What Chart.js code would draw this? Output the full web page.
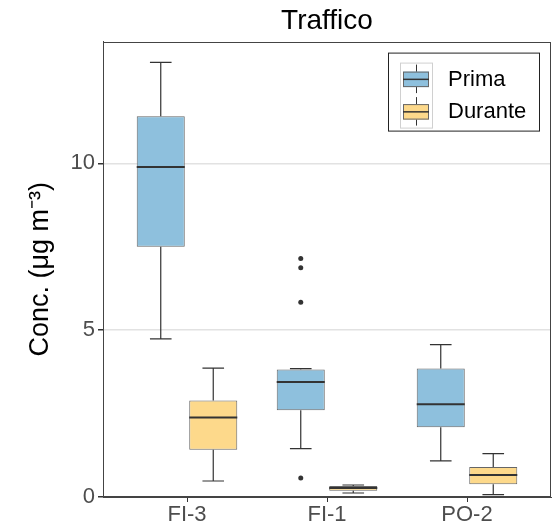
<!DOCTYPE html>
<html>
<head>
<meta charset="utf-8">
<script src="https://cdn.jsdelivr.net/npm/chart.js@4/dist/chart.umd.min.js"></script>
<style>
  html, body { margin: 0; padding: 0; background: #fff; }
  #chart { display: block; }
</style>
</head>
<body>
<canvas id="chart" width="553" height="530"></canvas>
<script>
// categories and tick labels
const categories = ['FI-3', 'FI-1', 'PO-2'];
const yTicks = [0, 5, 10];

// "Prima" box stats
const primaMin    = [4.74, 1.45, 1.08];
const primaQ1     = [7.50, 2.60, 2.09];
const primaMedian = [9.89, 3.45, 2.78];
const primaQ3     = [11.41, 3.82, 3.85];
const primaMax    = [13.03, 3.85, 4.57];
const primaOutliers = [[], [7.15, 6.87, 5.84, 0.57], []];

// "Durante" box stats
const duranteMin    = [0.48, 0.12, 0.07];
const duranteQ1     = [1.42, 0.19, 0.38];
const duranteMedian = [2.38, 0.27, 0.66];
const duranteQ3     = [2.89, 0.33, 0.90];
const duranteMax    = [3.86, 0.36, 1.30];
const duranteOutliers = [[], [], []];

const FONT = "'Liberation Sans', Arial, sans-serif";
const BLUE = '#8ec0dd';
const YELLOW = '#fdd98b';
const DARK = '#333333';

const seriesStats = [
  { label: 'Prima', color: BLUE, min: primaMin, q1: primaQ1, med: primaMedian, q3: primaQ3, max: primaMax, out: primaOutliers },
  { label: 'Durante', color: YELLOW, min: duranteMin, q1: duranteQ1, med: duranteMedian, q3: duranteQ3, max: duranteMax, out: duranteOutliers }
];

// whiskers, medians, outliers, panel frame and legend
const boxplotExtras = {
  id: 'boxplotExtras',
  afterDatasetsDraw(chart) {
    const ctx = chart.ctx;
    const y = chart.scales.y;
    ctx.save();
    seriesStats.forEach((s, di) => {
      const meta = chart.getDatasetMeta(di);
      meta.data.forEach((bar, i) => {
        const x = bar.x, w = bar.width;
        const capW = w * 0.45;
        const yMin = y.getPixelForValue(s.min[i]);
        const yMax = y.getPixelForValue(s.max[i]);
        const yQ1 = y.getPixelForValue(s.q1[i]);
        const yQ3 = y.getPixelForValue(s.q3[i]);
        const yMed = y.getPixelForValue(s.med[i]);
        ctx.strokeStyle = DARK;
        ctx.lineWidth = 1.2;
        ctx.beginPath();
        ctx.moveTo(x, yQ3); ctx.lineTo(x, yMax);
        ctx.moveTo(x, yQ1); ctx.lineTo(x, yMin);
        ctx.moveTo(x - capW / 2, yMax); ctx.lineTo(x + capW / 2, yMax);
        ctx.moveTo(x - capW / 2, yMin); ctx.lineTo(x + capW / 2, yMin);
        ctx.stroke();
        ctx.lineWidth = 2;
        ctx.beginPath();
        ctx.moveTo(x - w / 2, yMed); ctx.lineTo(x + w / 2, yMed);
        ctx.stroke();
        ctx.fillStyle = DARK;
        s.out[i].forEach(v => {
          ctx.beginPath();
          ctx.arc(x, y.getPixelForValue(v), 2.5, 0, Math.PI * 2);
          ctx.fill();
        });
      });
    });
    ctx.restore();
  },
  afterDraw(chart) {
    const ctx = chart.ctx;
    const a = chart.chartArea;
    ctx.save();
    // panel border
    ctx.strokeStyle = '#444';
    ctx.lineWidth = 1;
    ctx.strokeRect(Math.round(a.left) + 0.5, Math.round(a.top) + 0.5,
      Math.round(a.right - a.left) - 1, Math.round(a.bottom - a.top) - 1);

    // legend
    const lx = a.right - 163, ly = a.top + 11, lw = 151, lh = 78;
    ctx.fillStyle = '#fff';
    ctx.fillRect(lx, ly, lw, lh);
    ctx.strokeStyle = '#222';
    ctx.strokeRect(lx + 0.5, ly + 0.5, lw, lh);
    const kx = lx + 12, ky = ly + 10, kw = 32, kh = 32.5;
    ctx.strokeStyle = '#d0d0d0';
    ctx.strokeRect(kx + 0.5, ky + 0.5, kw, kh * 2);
    seriesStats.forEach((s, i) => {
      const top = ky + i * kh;
      const cx = kx + kw / 2 + 0.5;
      ctx.strokeStyle = DARK;
      ctx.lineWidth = 1;
      ctx.beginPath();
      ctx.moveTo(cx, top + 2); ctx.lineTo(cx, top + kh - 2);
      ctx.stroke();
      ctx.fillStyle = s.color;
      ctx.fillRect(kx + 3, top + 9, kw - 6, kh - 17);
      ctx.strokeStyle = '#666';
      ctx.strokeRect(kx + 3.5, top + 9.5, kw - 7, kh - 18);
      ctx.strokeStyle = DARK;
      ctx.lineWidth = 1.5;
      ctx.beginPath();
      ctx.moveTo(kx + 3, top + kh / 2 + 0.5); ctx.lineTo(kx + kw - 3, top + kh / 2 + 0.5);
      ctx.stroke();
      ctx.fillStyle = '#000';
      ctx.font = '22px ' + FONT;
      ctx.textBaseline = 'middle';
      ctx.fillText(s.label, kx + 48, top + kh / 2 + 1);
    });
    ctx.restore();
  }
};

new Chart(document.getElementById('chart'), {
  type: 'bar',
  data: {
    datasets: seriesStats.map(s => ({
      label: s.label,
      data: categories.map((c, i) => ({ x: i + 1, y: [s.q1[i], s.q3[i]] })),
      backgroundColor: s.color,
      borderColor: '#666',
      borderWidth: 1,
      borderSkipped: false,
      categoryPercentage: 0.75,
      barPercentage: 0.915
    }))
  },
  options: {
    responsive: false,
    animation: false,
    devicePixelRatio: 1,
    events: [],
    layout: { padding: { top: 0, right: 2, bottom: 0, left: 0 } },
    plugins: {
      legend: { display: false },
      tooltip: { enabled: false },
      title: {
        display: true,
        text: 'Traffico',
        fullSize: false,
        color: '#000',
        font: { family: FONT, size: 28, weight: 'normal' },
        padding: { top: 4, bottom: 4 }
      }
    },
    scales: {
      x: {
        type: 'linear',
        min: 0.4,
        max: 3.6,
        offset: false,
        afterBuildTicks: (scale) => { scale.ticks = categories.map((c, i) => ({ value: i + 1 })); },
        afterFit: (scale) => { scale.height = 33; },
        ticks: {
          callback: (v) => categories[v - 1],
          color: '#4d4d4d',
          font: { family: FONT, size: 22 },
          padding: 0,
          maxRotation: 0
        },
        grid: { offset: false, drawOnChartArea: false, tickLength: 5, tickColor: '#333' },
        border: { color: '#444' }
      },
      y: {
        min: 0,
        max: 13.65,
        afterBuildTicks: (scale) => { scale.ticks = yTicks.map(v => ({ value: v })); },
        afterFit: (scale) => { scale.width = 103; },
        ticks: {
          color: '#4d4d4d',
          font: { family: FONT, size: 22 },
          padding: 3
        },
        grid: { color: '#e2e2e2', lineWidth: 1.5, tickLength: 5, tickColor: '#333' },
        border: { color: '#444' },
        title: {
          display: true,
          text: 'Conc. (μg m⁻³)',
          color: '#000',
          font: { family: FONT, size: 27 },
          padding: { top: 24, bottom: 0 }
        }
      }
    }
  },
  plugins: [boxplotExtras]
});
</script>
</body>
</html>
